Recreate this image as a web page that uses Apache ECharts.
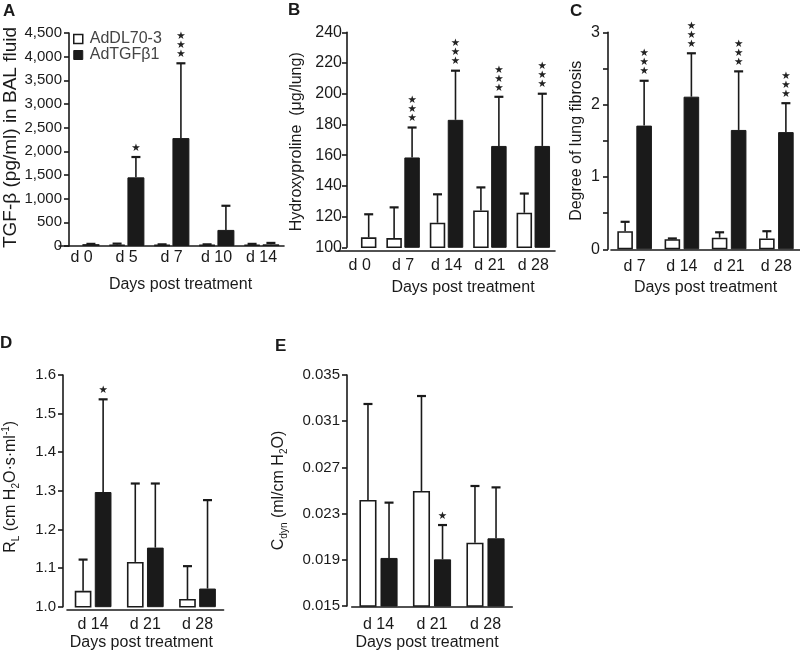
<!DOCTYPE html>
<html><head><meta charset="utf-8">
<script src="https://cdn.jsdelivr.net/npm/echarts@6/dist/echarts.min.js"></script>
<style>html,body{margin:0;padding:0;background:#fff}#c{width:800px;height:653px}</style>
</head><body><div id="c"></div><script>
// ---------------- DATA ----------------
// Panel A: TGF-beta (pg/ml) in BAL fluid
const catsA = ['d 0', 'd 5', 'd 7', 'd 10', 'd 14'];
const ctrlA = [null, 30, 25, 25, 30];
const ctrlErrA = [null, 50, 35, 35, 45];
const tgfA = [null, 1450, 2280, 340, 35];
const tgfErrA = [null, 1880, 3860, 850, 65];
const baseA = [40, null, null, null, null];
const baseErrA = [45, null, null, null, null];
const starsA = [0, 1, 3, 0, 0];
const ticksA = { min: 0, max: 4500, step: 500 };

// Panel B: Hydroxyproline (ug/lung)
const catsB = ['d 0', 'd 7', 'd 14', 'd 21', 'd 28'];
const ctrlB = [null, 106, 116, 124, 122.5];
const ctrlErrB = [null, 126, 134.5, 139, 135];
const tgfB = [null, 158.5, 183, 166, 166];
const tgfErrB = [null, 178, 215, 198, 200];
const baseB = [106.5, null, null, null, null];
const baseErrB = [121.5, null, null, null, null];
const starsB = [0, 3, 3, 3, 3];
const ticksB = { min: 100, max: 240, step: 20 };

// Panel C: Degree of lung fibrosis
const catsC = ['d 7', 'd 14', 'd 21', 'd 28'];
const ctrlC = [0.25, 0.14, 0.16, 0.15];
const ctrlErrC = [0.38, 0.15, 0.235, 0.25];
const tgfC = [1.71, 2.11, 1.65, 1.62];
const tgfErrC = [2.33, 2.71, 2.46, 2.02];
const starsC = [3, 3, 3, 3];
const ticksC = { min: 0, max: 3, step: 0.5 };

// Panel D: R_L
const catsD = ['d 14', 'd 21', 'd 28'];
const ctrlD = [1.041, 1.116, 1.020];
const ctrlErrD = [1.122, 1.319, 1.105];
const tgfD = [1.297, 1.153, 1.047];
const tgfErrD = [1.537, 1.319, 1.276];
const starsD = [1, 0, 0];
const ticksD = { min: 1.0, max: 1.6, step: 0.1 };

// Panel E: C_dyn
const catsE = ['d 14', 'd 21', 'd 28'];
const ctrlE = [0.02418, 0.02496, 0.02048];
const ctrlErrE = [0.03249, 0.03318, 0.02539];
const tgfE = [0.01916, 0.01904, 0.02086];
const tgfErrE = [0.02395, 0.02201, 0.02527];
const starsE = [0, 1, 0];
const ticksE = { min: 0.015, max: 0.035, step: 0.004 };

const xTitle = 'Days post treatment';
const seriesNames = ['AdDL70-3', 'AdTGFβ1'];

// ---------------- STYLE / LAYOUT ----------------
const FONT = "'Liberation Sans', Arial, Helvetica, sans-serif";
const INK = '#1a1a1a';

const panels = [
  { letter: 'A', lx: 3, ly: 3, cats: catsA, ctrl: ctrlA, ctrlErr: ctrlErrA, tgf: tgfA, tgfErr: tgfErrA, base: baseA, baseErr: baseErrA, stars: starsA, ticks: ticksA,
    grid: { left: 52, top: 33, width: 232, height: 213 }, yOff: -10, xOff: 2, labelMargin: 2, xNameGap: 29, xNamePad: [0, 0, 0, 18],
    yName: 'TGF-β (pg/ml) in BAL fluid', yNameSize: 19, yNameGap: 49, yNamePad: [0, 0, 0, 4], yLabelMargin: 7, yLabelSize: 15,
    fmt: v => Math.round(v).toLocaleString('en-US'), bwR: 0.377, gapR: 0.11 },
  { letter: 'B', lx: 288, ly: 2, cats: catsB, ctrl: ctrlB, ctrlErr: ctrlErrB, tgf: tgfB, tgfErr: tgfErrB, base: baseB, baseErr: baseErrB, stars: starsB, ticks: ticksB,
    grid: { left: 338, top: 32.3, width: 217, height: 215 }, yOff: -9, xOff: 3, labelMargin: 7, xNameGap: 29, xNamePad: [0, 0, 0, 33],
    yName: 'Hydroxyproline  (μg/lung)', yNameSize: 16, yNameGap: 42, yNamePad: [0, 4, 0, 0], yLabelMargin: 5, yLabelSize: 16,
    fmt: v => String(Math.round(v)), bwR: 0.357, gapR: 0.16 },
  { letter: 'C', lx: 570, ly: 3, cats: catsC, ctrl: ctrlC, ctrlErr: ctrlErrC, tgf: tgfC, tgfErr: tgfErrC, base: null, baseErr: null, stars: starsC, ticks: ticksC,
    grid: { left: 611, top: 32.3, width: 193, height: 217 }, yOff: 3, xOff: 4, labelMargin: 5, xNameGap: 26, xNamePad: [0, 0, 0, 0],
    yName: 'Degree of lung fibrosis', yNameSize: 16, yNameGap: 23, yNamePad: [0, 0, 0, 0], yLabelMargin: 8, yLabelSize: 16,
    fmt: v => (Math.abs(v - Math.round(v)) < 1e-6 ? String(Math.round(v)) : ''), bwR: 0.33, gapR: 0.22 },
  { letter: 'D', lx: 0, ly: 335, cats: catsD, ctrl: ctrlD, ctrlErr: ctrlErrD, tgf: tgfD, tgfErr: tgfErrD, base: null, baseErr: null, stars: starsD, ticks: ticksD,
    grid: { left: 61, top: 375, width: 162.6, height: 231.7 }, yOff: 4, xOff: 3, labelMargin: 7, xNameGap: 25, xNamePad: [0, 8, 0, 0],
    yName: '{m|R}{s|L}{m| (cm H}{s|2}{m|O·s·ml}{p|-1}{m|)}', yNameSize: 16, yNameGap: 42, yNamePad: [0, 0, 0, 8], yLabelMargin: 7, yLabelSize: 15,
    fmt: v => v.toFixed(1), bwR: 0.32, gapR: 0.20 },
  { letter: 'E', lx: 275, ly: 338, cats: catsE, ctrl: ctrlE, ctrlErr: ctrlErrE, tgf: tgfE, tgfErr: tgfErrE, base: null, baseErr: null, stars: starsE, ticks: ticksE,
    grid: { left: 351.75, top: 375, width: 160.5, height: 231 }, yOff: 4.75, xOff: 1, labelMargin: 10, xNameGap: 28, xNamePad: [0, 10, 0, 0],
    yName: '{m|C}{s|dyn}{m| (ml/cm H}{s|2}{m|O)}', yNameSize: 16, yNameGap: 58, yNamePad: [0, 0, 0, 0], yLabelMargin: 7, yLabelSize: 15,
    fmt: v => v.toFixed(3), bwR: 0.32, gapR: 0.23 }
];

const grids = [], xAxes = [], yAxes = [], series = [], graphics = [];

panels.forEach((p, gi) => {
  grids.push(Object.assign({ containLabel: false }, p.grid));
  xAxes.push({
    type: 'category', gridIndex: gi, data: p.cats, offset: p.xOff,
    axisTick: { show: false },
    axisLine: { lineStyle: { color: INK, width: 1.6 } },
    axisLabel: { fontSize: 16, color: INK, fontFamily: FONT, margin: p.labelMargin, interval: 0 },
    name: xTitle, nameLocation: 'middle', nameGap: p.xNameGap,
    nameTextStyle: { fontSize: 16, color: INK, fontFamily: FONT, padding: p.xNamePad }
  });
  yAxes.push({
    type: 'value', gridIndex: gi, min: p.ticks.min, max: p.ticks.max, interval: p.ticks.step, offset: p.yOff,
    splitLine: { show: false },
    axisLine: { show: true, lineStyle: { color: INK, width: 1.6 } },
    axisTick: { show: true, length: 5, lineStyle: { color: INK, width: 1.6 } },
    axisLabel: { fontSize: p.yLabelSize, color: INK, fontFamily: FONT, margin: p.yLabelMargin, formatter: p.fmt },
    name: p.yName, nameLocation: 'middle', nameGap: p.yNameGap,
    nameTextStyle: {
      fontSize: p.yNameSize, color: INK, fontFamily: FONT, padding: p.yNamePad,
      rich: {
        m: { fontSize: 16, color: INK, fontFamily: FONT, lineHeight: 20 },
        s: { fontSize: 10, color: INK, fontFamily: FONT, verticalAlign: 'bottom', lineHeight: 20 },
        p: { fontSize: 10, color: INK, fontFamily: FONT, verticalAlign: 'top', lineHeight: 20 }
      }
    }
  });
  const bw = (p.bwR * 100).toFixed(1) + '%';
  const gap = (p.gapR * 100).toFixed(0) + '%';
  series.push({
    type: 'bar', name: seriesNames[0], xAxisIndex: gi, yAxisIndex: gi, data: p.ctrl,
    barWidth: bw, barGap: gap, clip: true, animation: false, silent: true,
    itemStyle: { color: '#fff', borderColor: INK, borderWidth: 1.6 }
  });
  series.push({
    type: 'bar', name: seriesNames[1], xAxisIndex: gi, yAxisIndex: gi, data: p.tgf, stack: 'g' + gi,
    barWidth: bw, barGap: gap, clip: true, animation: false, silent: true,
    itemStyle: { color: INK, borderColor: INK, borderWidth: 1 }
  });
  if (p.base) {
    series.push({
      type: 'bar', name: 'Day 0 baseline', xAxisIndex: gi, yAxisIndex: gi, data: p.base, stack: 'g' + gi,
      barWidth: bw, barGap: gap, clip: true, animation: false, silent: true,
      itemStyle: { color: '#fff', borderColor: INK, borderWidth: 1.6 }
    });
  }
  // error bars + significance stars
  const eData = [];
  p.cats.forEach((c, i) => {
    if (p.ctrl[i] != null) eData.push([i, -1, p.ctrl[i], p.ctrlErr[i], 0]);
    if (p.tgf[i] != null) eData.push([i, 1, p.tgf[i], p.tgfErr[i], p.stars[i]]);
    if (p.base && p.base[i] != null) eData.push([i, 1, p.base[i], p.baseErr[i], 0]);
  });
  series.push({
    type: 'custom', name: 'err' + p.letter, xAxisIndex: gi, yAxisIndex: gi, data: eData,
    encode: { x: 0, y: 3 }, animation: false, silent: true, z: 5,
    renderItem: (params, api) => {
      const i = api.value(0), side = api.value(1), m = api.value(2), hi = api.value(3), n = api.value(4);
      const band = api.size([1, 0])[0];
      const w = band * p.bwR, g = w * p.gapR;
      const pm = api.coord([i, m]), ph = api.coord([i, hi]);
      const x = pm[0] + side * (w + g) / 2;
      const ch = [
        { type: 'line', shape: { x1: x, y1: pm[1], x2: x, y2: ph[1] }, style: { stroke: INK, lineWidth: 1.6 } },
        { type: 'line', shape: { x1: x - 4.5, y1: ph[1], x2: x + 4.5, y2: ph[1] }, style: { stroke: INK, lineWidth: 2.2 } }
      ];
      for (let k = 0; k < n; k++) {
        ch.push({ type: 'text', x: x, y: ph[1] - 9 - k * 9,
          style: { text: '★', fontSize: 10.5, fill: '#222', align: 'center', verticalAlign: 'middle', fontFamily: "'DejaVu Sans', sans-serif" } });
      }
      return { type: 'group', children: ch };
    }
  });
  graphics.push({ type: 'text', left: p.lx, top: p.ly, style: { text: p.letter, fontSize: 17, fontWeight: 'bold', fill: INK, fontFamily: FONT } });
});

const chart = echarts.init(document.getElementById('c'), null, { renderer: 'canvas' });
chart.setOption({
  backgroundColor: '#fff',
  animation: false,
  grid: grids, xAxis: xAxes, yAxis: yAxes, series: series, graphic: graphics,
  legend: {
    data: [
      { name: seriesNames[0], itemStyle: { color: '#fff', borderColor: INK, borderWidth: 1.5 } },
      { name: seriesNames[1], itemStyle: { color: INK, borderColor: INK, borderWidth: 1 } }
    ],
    orient: 'vertical', left: 68, top: 26, itemWidth: 9, itemHeight: 9, itemGap: 0, icon: 'rect', selectedMode: false,
    textStyle: { fontSize: 16, color: '#444', fontFamily: FONT, lineHeight: 15, padding: [0, 0, 0, 2] }
  }
});
</script></body></html>
